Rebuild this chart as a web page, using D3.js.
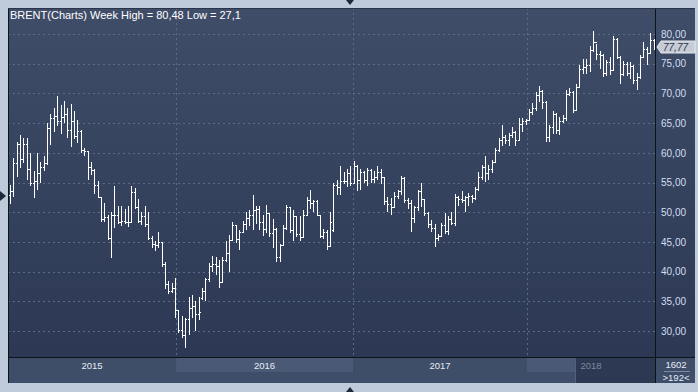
<!DOCTYPE html>
<html lang="en">
<head>
    <meta charset="utf-8">
    <title>Brent weekly</title>
    <style>
        html, body { margin: 0; padding: 0; background: #bfcada; }
        svg { display: block; font-family: "Liberation Sans", Arial, sans-serif; }
    </style>
</head>
<body>
    <div id="container"></div>

    <script src="https://cdn.jsdelivr.net/npm/d3@7"></script>
    <script>
        // Weekly OHLC bars (Brent, early 2015 .. 2018)
        const opens = [
            52.9,53.6,58.3,61.5,59.0,61.4,57.2,54.9,55.3,56.6,57.6,58.2,64.2,65.8,66.2,65.4,66.0,66.6,63.8,65.3,
            62.9,63.6,60.5,60.3,57.6,57.1,54.6,52.5,48.8,49.2,45.7,49.5,49.6,48.4,48.6,48.3,48.4,53.4,50.8,48.5,
            49.4,48.0,45.6,44.7,44.4,44.9,41.3,37.9,36.8,37.3,33.5,30.2,29.4,32.0,33.9,34.2,32.8,35.5,36.8,38.7,
            40.9,41.3,41.0,38.2,41.9,43.2,45.4,47.9,45.5,46.6,48.0,49.1,49.6,50.4,50.6,48.4,47.2,49.8,46.5,47.2,
            42.5,44.4,47.3,50.9,47.0,49.3,46.4,45.9,49.5,52.0,51.5,51.9,49.6,46.0,46.6,44.3,47.0,54.5,54.2,55.2,
            55.3,56.6,55.0,57.8,55.5,56.8,55.5,57.1,55.6,56.0,56.8,55.9,51.9,51.4,50.8,52.8,53.5,55.8,52.0,51.5,
            49.0,50.8,53.6,52.2,49.9,48.0,47.4,45.6,46.0,47.9,46.8,48.9,48.1,52.5,52.3,52.0,52.5,52.8,52.4,53.9,
            55.9,57.6,56.6,57.2,58.4,60.5,62.1,62.7,62.2,63.0,63.5,62.2,64.9,65.3,65.6,66.9,67.6,69.8,70.4,68.6,
            62.6,64.4,66.6,63.8,65.4,65.8,69.9,70.3,67.2,71.0,74.1,74.4,74.8,77.3,78.6,76.6,76.5,73.4,75.3,74.0,
            79.2,76.2,73.2,74.9,73.4,74.6,72.2,72.8,76.1,77.5,76.8,79.0
        ];
        const highs = [
            54.6,59.2,61.8,63.0,62.5,62.5,60.0,56.9,60.0,58.5,59.4,65.0,66.5,67.5,69.6,68.0,68.8,67.5,68.2,67.0,
            65.5,63.8,60.8,60.3,58.5,57.2,55.2,52.5,51.5,49.5,50.1,54.4,51.0,51.0,50.5,51.0,54.4,54.0,52.2,50.0,
            51.0,50.0,46.0,45.2,46.6,45.0,41.6,38.5,38.1,38.9,33.6,32.5,32.2,35.8,36.1,35.0,35.8,37.2,38.9,41.5,
            42.6,42.5,42.0,42.5,45.1,46.2,48.4,47.9,47.0,48.5,50.1,50.3,52.9,51.0,51.0,49.5,51.2,49.8,48.9,47.3,
            44.7,47.8,51.2,50.9,50.4,49.3,49.4,50.4,52.6,53.7,52.0,52.0,49.6,47.2,47.0,50.1,54.9,55.5,57.7,56.8,
            57.3,57.7,58.6,57.9,57.2,57.0,57.5,57.3,56.9,57.7,57.2,56.0,52.6,52.4,53.4,53.8,56.1,56.0,52.4,52.1,
            51.0,53.8,55.0,52.3,50.0,48.7,48.0,46.4,48.1,49.8,49.3,50.1,53.0,52.7,53.5,52.7,53.3,52.9,54.3,56.7,
            58.0,59.4,58.0,58.8,60.8,62.5,64.6,63.0,63.3,64.4,63.7,65.9,65.9,65.7,67.3,68.4,70.3,71.3,70.5,68.8,
            64.6,67.0,66.7,66.0,66.4,70.6,70.9,70.4,71.5,74.8,75.8,75.8,77.9,80.48,78.3,77.1,76.6,75.6,76.2,79.6,
            79.3,76.3,75.5,75.3,75.3,74.8,73.5,76.5,78.7,77.8,80.2,79.2
        ];
        const lows = [
            51.4,52.5,56.0,57.5,58.3,55.5,54.4,52.4,53.8,55.0,57.0,58.0,61.3,63.5,64.5,63.2,65.0,62.5,61.0,62.3,
            61.7,60.0,59.5,55.5,56.3,53.0,52.4,48.4,48.4,45.4,42.3,47.4,48.0,47.6,48.0,47.5,48.2,50.5,48.2,47.8,
            47.5,45.3,44.0,43.5,44.0,40.8,37.0,36.2,36.4,32.2,29.7,28.9,27.1,29.4,32.2,30.0,31.9,35.3,35.0,38.2,
            40.0,39.5,37.2,38.0,41.7,40.0,45.3,44.8,43.7,46.5,47.0,47.6,47.0,48.0,47.0,46.0,46.5,45.8,44.0,41.6,
            41.7,44.3,47.0,46.5,45.2,45.8,45.2,45.7,49.3,50.6,50.0,49.3,45.7,45.5,43.6,44.2,46.7,52.9,52.9,54.8,
            54.2,54.4,55.0,53.5,53.8,54.9,54.4,55.0,55.0,55.5,54.8,51.2,50.1,49.5,50.7,52.3,52.9,51.5,50.6,46.7,
            48.2,50.2,50.9,49.3,47.3,46.7,44.2,45.2,45.8,46.3,46.2,47.8,47.6,51.0,51.5,50.1,51.0,51.5,52.0,53.5,
            55.5,55.1,55.5,56.6,58.3,60.2,61.2,61.5,61.1,62.5,61.2,62.0,63.5,64.6,65.5,66.4,67.0,68.5,67.3,61.9,
            61.9,63.1,63.1,63.0,65.0,65.3,69.5,66.7,67.0,70.9,73.3,73.2,73.6,76.9,75.6,74.1,72.8,73.0,73.1,73.9,
            75.8,71.5,73.0,72.9,72.5,71.5,70.6,72.5,76.0,74.8,76.6,77.3
        ];
        const closes = [
            53.6,58.3,61.5,59.0,61.4,57.2,54.9,55.3,56.6,57.6,58.2,64.2,65.8,66.2,65.4,66.0,66.6,63.8,65.3,62.9,
            63.6,60.5,60.3,57.6,57.1,54.6,52.5,48.8,49.2,45.7,49.5,49.6,48.4,48.6,48.3,48.4,53.4,50.8,48.5,49.4,
            48.0,45.6,44.7,44.4,44.9,41.3,37.9,36.8,37.3,33.5,30.2,29.4,32.0,33.9,34.2,32.8,33.2,36.8,38.7,40.9,
            41.3,41.0,38.2,41.9,43.2,45.4,47.9,45.5,46.6,48.0,49.1,49.6,50.4,50.6,48.4,47.2,49.8,46.5,47.2,42.5,
            44.4,47.3,50.9,47.0,49.3,46.4,45.9,49.5,52.0,51.5,51.9,49.6,46.0,46.6,44.3,48.3,54.5,54.2,55.2,55.3,
            56.6,55.0,57.8,55.5,56.8,55.5,57.1,55.6,56.0,56.8,55.9,51.9,51.4,50.8,52.8,53.5,55.8,52.0,51.5,49.0,
            50.8,53.6,52.2,49.9,48.0,47.4,45.6,46.0,47.9,46.8,48.9,48.1,52.5,52.3,52.0,52.5,52.8,52.4,53.9,55.9,
            57.6,56.6,57.2,58.4,60.5,62.1,62.7,62.2,63.0,63.5,62.2,64.9,65.3,65.6,66.9,67.6,69.8,70.4,68.6,62.6,
            64.4,66.6,63.8,65.4,65.8,69.9,70.3,67.2,71.0,74.1,74.4,74.8,77.3,78.6,76.6,76.5,73.4,75.3,74.0,79.2,
            76.2,73.2,74.9,73.4,74.6,72.2,72.8,76.1,77.5,76.8,79.0,77.77
        ];

        // x axis: year bands, in bar-index units
        const years = ["2015", "2016", "2017", "2018"];
        const yearStarts = [-0.6, 49.3, 101.8, 153.4];
        const yearEnds = [49.3, 101.8, 153.4, 192.2];
        const yTicks = [30, 35, 40, 45, 50, 55, 60, 65, 70, 75, 80];

        const width = 698, height = 392;
        const plotLeft = 8, plotRight = 655, plotTop = 8, plotBottom = 357, axisBottom = 383, panelRight = 695;

        const svg = d3.select("#container").append("svg")
            .attr("width", width)
            .attr("height", height);

        const defs = svg.append("defs");
        const grad = defs.append("linearGradient").attr("id", "bg")
            .attr("x1", 0).attr("y1", 0).attr("x2", 0).attr("y2", 1);
        grad.append("stop").attr("offset", "0%").attr("stop-color", "#3f4d69");
        grad.append("stop").attr("offset", "100%").attr("stop-color", "#2c3854");

        // light frame
        svg.append("rect").attr("width", width).attr("height", height).attr("fill", "#bfcada");

        // plot + right panel background
        svg.append("rect")
            .attr("x", plotLeft).attr("y", plotTop)
            .attr("width", panelRight - plotLeft).attr("height", plotBottom - plotTop)
            .attr("fill", "url(#bg)");

        const n = closes.length;
        const x = d3.scaleLinear().domain([0, n - 1]).range([10, 653.6]);
        const y = d3.scaleLinear().domain([30, 80]).range([331, 34]);

        // horizontal grid
        svg.append("g")
            .attr("transform", `translate(${plotLeft},0)`)
            .call(d3.axisRight(y).tickValues(yTicks).tickSize(plotRight - plotLeft).tickFormat(""))
            .call(g => g.select(".domain").remove())
            .call(g => g.selectAll("line")
                .attr("stroke", "#5b6b8a")
                .attr("stroke-dasharray", "2,3")
                .attr("shape-rendering", "crispEdges"));

        // vertical grid at year changes
        svg.append("g").selectAll("line")
            .data(yearStarts.slice(1))
            .join("line")
            .attr("x1", d => Math.round(x(d)) + 0.5)
            .attr("x2", d => Math.round(x(d)) + 0.5)
            .attr("y1", plotTop).attr("y2", plotBottom)
            .attr("stroke", "#5b6b8a")
            .attr("stroke-dasharray", "2,3");

        // OHLC bars
        const bars = svg.append("g")
            .attr("stroke", "#ffffff")
            .attr("stroke-width", 1)
            .attr("shape-rendering", "crispEdges");

        const idx = d3.range(n);
        bars.selectAll("line.hl")
            .data(idx)
            .join("line")
            .attr("class", "hl")
            .attr("x1", i => Math.round(x(i)) + 0.5)
            .attr("x2", i => Math.round(x(i)) + 0.5)
            .attr("y1", i => y(highs[i]))
            .attr("y2", i => y(lows[i]));
        bars.selectAll("line.op")
            .data(idx)
            .join("line")
            .attr("class", "op")
            .attr("x1", i => Math.round(x(i)) - 1)
            .attr("x2", i => Math.round(x(i)) + 1)
            .attr("y1", i => Math.round(y(opens[i])) + 0.5)
            .attr("y2", i => Math.round(y(opens[i])) + 0.5);
        bars.selectAll("line.cl")
            .data(idx)
            .join("line")
            .attr("class", "cl")
            .attr("x1", i => Math.round(x(i)))
            .attr("x2", i => Math.round(x(i)) + 2)
            .attr("y1", i => Math.round(y(closes[i])) + 0.5)
            .attr("y2", i => Math.round(y(closes[i])) + 0.5);

        // bottom axis strip
        const bottom = svg.append("g");
        bottom.append("rect")
            .attr("x", plotLeft).attr("y", plotBottom)
            .attr("width", panelRight - plotLeft).attr("height", axisBottom - plotBottom)
            .attr("fill", "#3e4d68");
        // lighter bands
        bottom.append("rect")
            .attr("x", x(yearStarts[1])).attr("y", plotBottom)
            .attr("width", x(yearEnds[1]) - x(yearStarts[1])).attr("height", 15)
            .attr("fill", "#4a5a76");
        bottom.append("rect")
            .attr("x", x(yearStarts[3])).attr("y", plotBottom)
            .attr("width", 48).attr("height", 15)
            .attr("fill", "#4a5a76");
        bottom.append("rect")
            .attr("x", x(yearStarts[3]) + 49).attr("y", plotBottom)
            .attr("width", plotRight - x(yearStarts[3]) - 49).attr("height", axisBottom - plotBottom)
            .attr("fill", "#2d3952");
        bottom.append("line")
            .attr("x1", x(yearStarts[3]) + 48.5).attr("x2", x(yearStarts[3]) + 48.5)
            .attr("y1", plotBottom).attr("y2", axisBottom)
            .attr("stroke", "#56647e");

        bottom.selectAll("text")
            .data(years)
            .join("text")
            .attr("x", (d, i) => (Math.max(plotLeft, x(yearStarts[i])) + Math.min(plotRight, x(yearEnds[i]))) / 2)
            .attr("y", 368.5)
            .attr("text-anchor", "middle")
            .attr("font-size", 9.5)
            .attr("fill", (d, i) => i === 3 ? "#7d889c" : "#e6ecf5")
            .text(d => d);

        // frame lines
        svg.append("line").attr("x1", plotLeft).attr("x2", panelRight)
            .attr("y1", plotBottom + 0.5).attr("y2", plotBottom + 0.5).attr("stroke", "#0d121b");
        svg.append("line").attr("x1", plotLeft + 0.5).attr("x2", plotLeft + 0.5)
            .attr("y1", plotTop).attr("y2", axisBottom).attr("stroke", "#0d121b");
        svg.append("line").attr("x1", plotRight + 0.5).attr("x2", plotRight + 0.5)
            .attr("y1", plotTop).attr("y2", axisBottom).attr("stroke", "#0d121b");
        svg.append("line").attr("x1", plotLeft).attr("x2", panelRight)
            .attr("y1", plotTop + 0.5).attr("y2", plotTop + 0.5).attr("stroke", "#2a3448");

        // right value axis
        const fmt = v => d3.format(".2f")(v).replace(".", ",");
        svg.append("g")
            .attr("transform", `translate(${plotRight + 3},0)`)
            .call(d3.axisRight(y).tickValues(yTicks).tickSize(0).tickFormat(fmt))
            .call(g => g.select(".domain").remove())
            .call(g => g.selectAll("text")
                .attr("fill", "#d2def0")
                .attr("font-size", 10)
                .attr("font-family", "Liberation Sans, Arial, sans-serif"));

        // last price marker
        const lastY = Math.round(y(closes[n - 1]));
        const marker = svg.append("g");
        marker.append("path")
            .attr("d", `M${plotRight + 2},${lastY} L${plotRight + 6},${lastY - 6} L${panelRight},${lastY - 6} L${panelRight},${lastY + 6} L${plotRight + 6},${lastY + 6} Z`)
            .attr("fill", "#c6cbd4")
            .attr("stroke", "#e6e9ee");
        marker.append("text")
            .attr("x", plotRight + 8).attr("y", lastY + 4)
            .attr("font-size", 10)
            .attr("font-style", "italic")
            .attr("fill", "#2b3550")
            .text(fmt(closes[n - 1]));

        // right panel footer
        svg.append("text").attr("x", 676).attr("y", 368).attr("text-anchor", "middle")
            .attr("font-size", 9.5).attr("fill", "#e6ecf5").text("1602");
        svg.append("line").attr("x1", 664).attr("x2", 690).attr("y1", 371.5).attr("y2", 371.5)
            .attr("stroke", "#7e8aa0");
        svg.append("text").attr("x", 676).attr("y", 381).attr("text-anchor", "middle")
            .attr("font-size", 9.5).attr("fill", "#e6ecf5").text(">192<");

        // title
        svg.append("text")
            .attr("x", 10).attr("y", 19)
            .attr("font-size", 11)
            .attr("fill", "#ffffff")
            .text("BRENT(Charts) Week High = 80,48 Low = 27,1");

        // small navigation arrows
        svg.append("path").attr("d", "M346,0 L354,0 L350,5 Z").attr("fill", "#1e2839");
        svg.append("path").attr("d", "M346,392 L354,392 L350,387 Z").attr("fill", "#1e2839");
        svg.append("path").attr("d", "M0,191 L0,201 L6,196 Z").attr("fill", "#1e2839");
    </script>
</body>
</html>
